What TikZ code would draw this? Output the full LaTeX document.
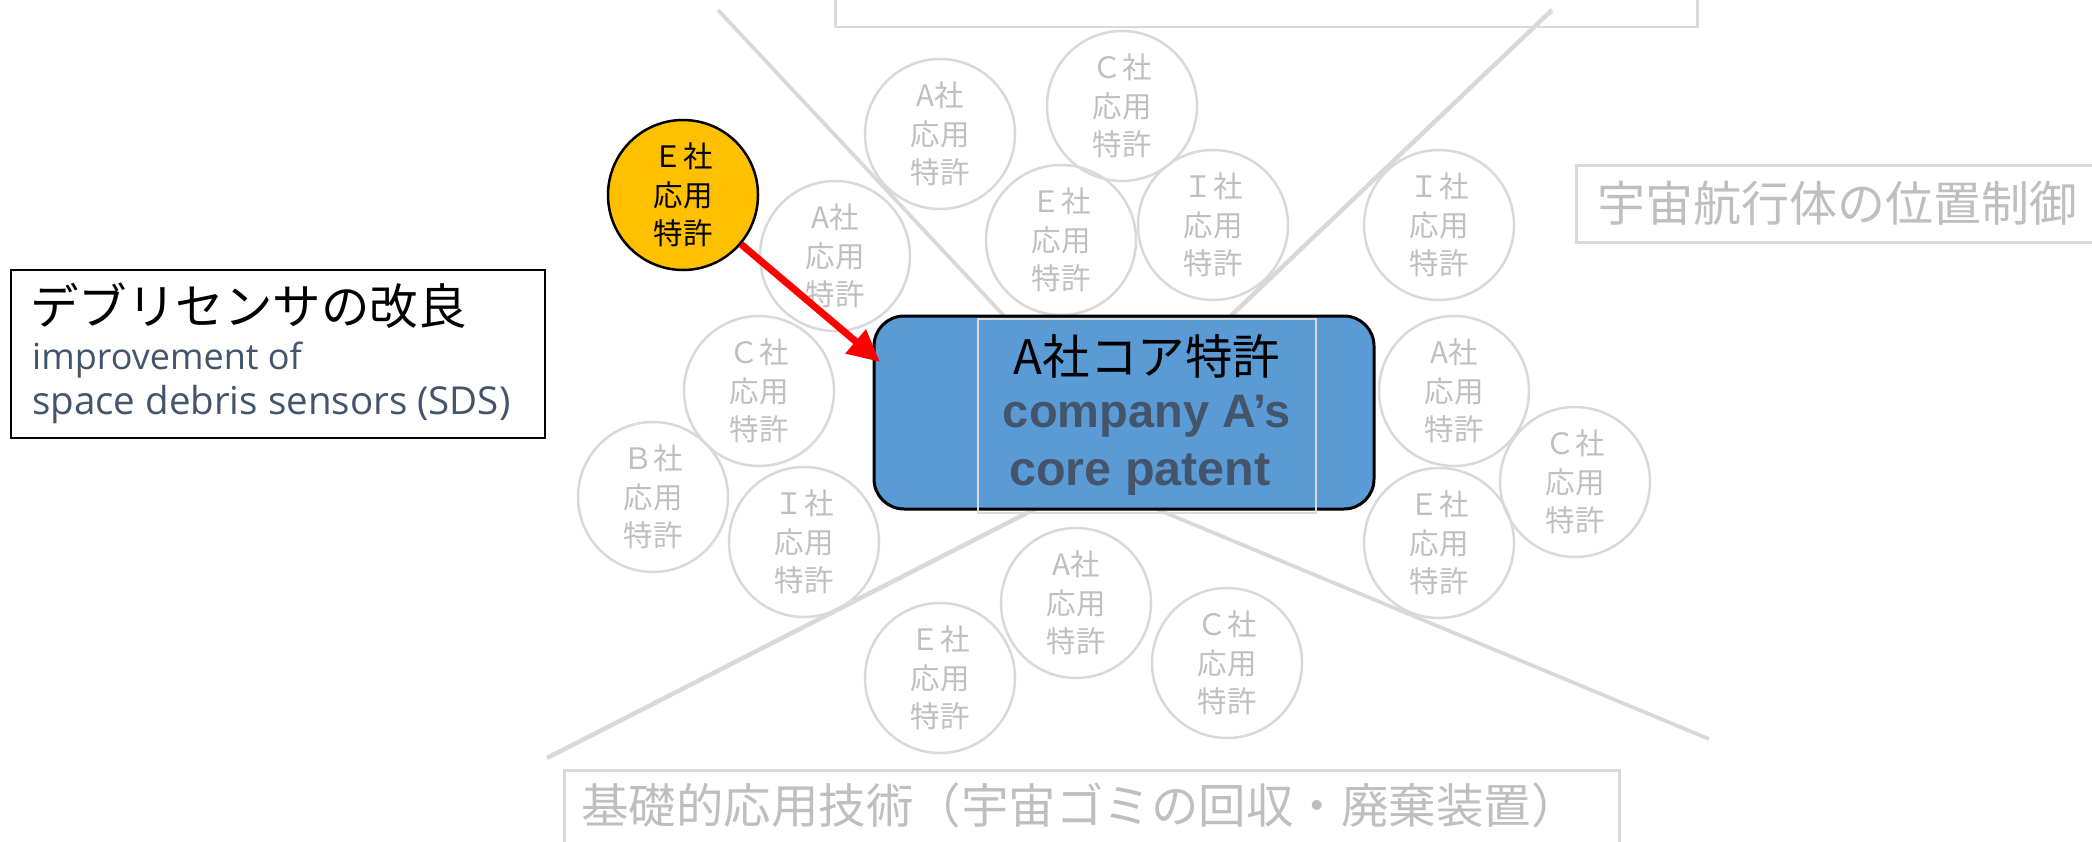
\documentclass[tikz,border=0pt]{standalone}
\usepackage{fontspec}
\usetikzlibrary{arrows.meta}
\newfontfamily\jp{Noto Sans CJK JP}
\newfontfamily\osans{Open Sans}
\newfontfamily\lsans{Liberation Sans}
\definecolor{lgrey}{HTML}{D9D9D9}
\definecolor{tgrey}{HTML}{BFBFBF}
\definecolor{slate}{HTML}{44546A}
\definecolor{coreblue}{HTML}{5B9BD5}
\definecolor{gold}{HTML}{FFC000}
\tikzset{
  pat/.style={circle, draw=lgrey, line width=2.5pt, minimum size=150pt, inner sep=0pt,
    align=center, text=tgrey, font=\jp\fontsize{29.5}{38.5}\selectfont},
  hipat/.style={pat, fill=gold, draw=black, text=black},
  gline/.style={draw=lgrey, line width=4.5pt},
  gbox/.style={draw=lgrey, line width=2.5pt, inner sep=0pt},
  jtext/.style={inner sep=0pt, font=\jp\fontsize{#1}{#1}\selectfont},
  redarrow/.style={draw=red, line width=7pt, -{Triangle[length=32pt,width=30pt]}}
}
\begin{document}
\begin{tikzpicture}[x=1pt,y=-1pt]
\useasboundingbox (0,0) rectangle (2092,841);
\clip (0,0) rectangle (2092,841);

% grey lines (drawn first, behind everything)
\draw[gline, line width=3.8pt] (718,10) -- (1036,350);
\draw[gline] (1552,10) -- (1195,350);
\draw[gline] (547,758) -- (1070,491);
\draw[gline, line width=3.8pt] (1709,739) -- (1130,498);

% grey category boxes
\node[gbox, anchor=south west, minimum width=862pt, minimum height=60pt] (topbox) at (834,28) {};
\node[gbox, anchor=north west, minimum width=560pt, minimum height=77pt] (rbox) at (1575,164) {};
\node[jtext=48, anchor=base west, text=tgrey] (rtext) at (1597,221) {宇宙航行体の位置制御};
\node[gbox, anchor=north west, minimum width=1055pt, minimum height=120pt] (bbox) at (563,769) {};
\node[jtext=47.5, anchor=base west, text=tgrey] (btext) at (581,823) {基礎的応用技術（宇宙ゴミの回収・廃棄装置）};

% left description box
\node[draw=black, line width=2pt, minimum width=534pt, minimum height=168pt, inner sep=0pt] (lbox) at (278,354) {};
\node[jtext=48.5, anchor=base west] (lt1) at (30,324) {デブリセンサの改良};
\node[inner sep=0pt, anchor=base west, font=\osans\fontsize{36}{36}\selectfont, text=slate] (lt2) at (32,369) {improvement of};
\node[inner sep=0pt, anchor=base west, font=\osans\fontsize{38.5}{38.5}\selectfont, text=slate] (lt3) at (32,414) {space debris sensors (SDS)};

% application patent circles
\node[pat] (c1) at (940,134) {A社\\応用\\特許};
\node[pat] (c2) at (1122,106) {Ｃ社\\応用\\特許};
\node[pat] (c4) at (835,256) {A社\\応用\\特許};
\node[pat] (c5) at (1061,240) {Ｅ社\\応用\\特許};
\node[pat] (c6) at (1213,225) {Ｉ社\\応用\\特許};
\node[pat] (c7) at (1439,225) {Ｉ社\\応用\\特許};
\node[pat] (c8) at (759,391) {Ｃ社\\応用\\特許};
\node[pat] (c9) at (653,497) {Ｂ社\\応用\\特許};
\node[pat] (c10) at (804,542) {Ｉ社\\応用\\特許};
\node[pat] (c11) at (1454,391) {A社\\応用\\特許};
\node[pat] (c12) at (1575,482) {Ｃ社\\応用\\特許};
\node[pat] (c13) at (1439,543) {Ｅ社\\応用\\特許};
\node[pat] (c14) at (1076,603) {A社\\応用\\特許};
\node[pat] (c15) at (940,678) {Ｅ社\\応用\\特許};
\node[pat] (c16) at (1227,663) {Ｃ社\\応用\\特許};

% highlighted patent
\node[hipat] (ecirc) at (683,195) {Ｅ社\\応用\\特許};

% core patent
\node[draw=black, line width=3pt, fill=coreblue, rounded corners=30pt,
      minimum width=500pt, minimum height=193pt, inner sep=0pt] (corebox) at (1124,412.5) {};
\node[draw=lgrey, line width=1.5pt, minimum width=338pt, minimum height=194pt, inner sep=0pt] (core) at (1147,416) {};
\node[jtext=47.5, anchor=base] (coreJ) at (1147,374) {A社コア特許};
\node[inner sep=0pt, anchor=base, font=\lsans\bfseries\fontsize{47}{47}\selectfont, text=slate] (coreE1) at (1147,427) {company A’s};
\node[inner sep=0pt, anchor=base, font=\lsans\bfseries\fontsize{48.5}{48.5}\selectfont, text=slate] (coreE2) at (1140,485) {core patent};

% red arrow
\coordinate (tip) at (880,362);
\draw[redarrow] (ecirc) -- (tip);
\end{tikzpicture}
\end{document}
